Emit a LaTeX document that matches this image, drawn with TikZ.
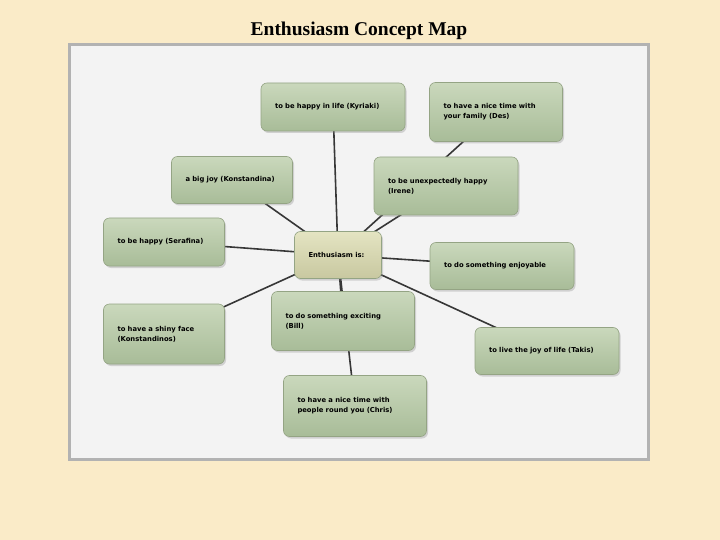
\documentclass[tikz,border=0pt]{standalone}
\usepackage{fontspec}
\setmainfont{Liberation Serif}
\newfontfamily\mapfont{DejaVu Sans}
\usetikzlibrary{shadows,backgrounds,positioning}

\definecolor{paper}{RGB}{250,235,200}
\definecolor{panel}{RGB}{243,243,243}
\definecolor{frame}{RGB}{178,178,178}
\definecolor{boxtop}{RGB}{202,216,188}
\definecolor{boxbot}{RGB}{168,188,152}
\definecolor{boxedge}{RGB}{148,164,132}
\definecolor{hubtop}{RGB}{228,228,194}
\definecolor{hubbot}{RGB}{200,200,160}
\definecolor{link}{RGB}{55,55,55}

\begin{document}
\begin{tikzpicture}[x=1pt, y=-1pt,
    idea/.style={rectangle, rounded corners=6pt, draw=boxedge, line width=0.6pt,
        top color=boxtop, bottom color=boxbot,
        drop shadow={shadow xshift=1.5pt, shadow yshift=-2pt, opacity=0.3},
        inner xsep=14pt, inner ysep=0pt, align=left,
        font=\mapfont\bfseries\fontsize{6.8}{10}\selectfont},
    hub/.style={idea, top color=hubtop, bottom color=hubbot},
    spoke/.style={draw=link, line width=1.6pt}]
    \useasboundingbox (0,0) rectangle (720,540);

    % Title
    \node (title) at (359,31) {\fontsize{19.5}{22}\selectfont\bfseries Enthusiasm Concept Map};

    % Nodes
    \node (hub) [hub, text width=59pt, minimum height=47pt] at (338,255) {Enthusiasm is:};
    \node (kyriaki) [idea, text width=116pt, minimum height=48pt] at (333,107) {to be happy in life (Kyriaki)};
    \node (des) [idea, text width=105pt, minimum height=59pt] at (496,112) {to have a nice time with\\your family (Des)};
    \node (konstandina) [idea, text width=93pt, minimum height=47pt] at (232,180) {a big joy (Konstandina)};
    \node (irene) [idea, text width=116pt, minimum height=58pt] at (446,186) {to be unexpectedly happy\\(Irene)};
    \node (serafina) [idea, text width=93pt, minimum height=48pt] at (164,242) {to be happy (Serafina)};
    \node (enjoy) [idea, text width=116pt, minimum height=47pt] at (502,266) {to do something enjoyable};
    \node (konstandinos) [idea, text width=93pt, minimum height=60pt] at (164,334) {to have a shiny face\\(Konstandinos)};
    \node (bill) [idea, text width=115pt, minimum height=59pt] at (343,321) {to do something exciting\\(Bill)};
    \node (takis) [idea, text width=116pt, minimum height=47pt] at (547,351) {to live the joy of life (Takis)};
    \node (chris) [idea, text width=115pt, minimum height=61pt] at (355,406) {to have a nice time with\\people round you (Chris)};

    % Panel and spokes
    \begin{pgfonlayer}{background}
        \fill[paper] (0,0) rectangle (720,540);
        \draw[frame, line width=3pt, fill=panel] (69.5,44.5) rectangle (648.5,459.5);
        \foreach \leaf in {kyriaki, des, konstandina, irene, serafina, enjoy,
                           konstandinos, bill, takis, chris}
            \draw[spoke] (hub.center) -- (\leaf.center);
    \end{pgfonlayer}
\end{tikzpicture}
\end{document}
